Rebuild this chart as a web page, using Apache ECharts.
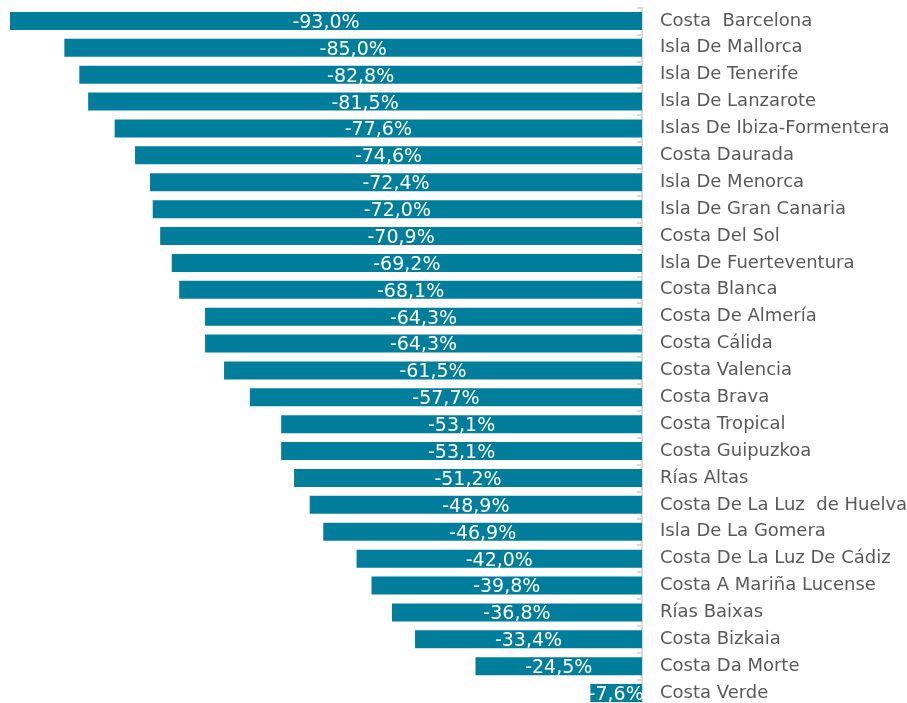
<!DOCTYPE html>
<html>
<head>
<meta charset="utf-8">
<script src="https://cdn.jsdelivr.net/npm/echarts@6/dist/echarts.min.js"></script>
<style>
html,body{margin:0;padding:0;background:#fff;}
#chart{width:907px;height:703px;}
</style>
</head>
<body>
<div id="chart"></div>
<script>
const categories = [
  "Costa  Barcelona","Isla De Mallorca","Isla De Tenerife","Isla De Lanzarote",
  "Islas De Ibiza-Formentera","Costa Daurada","Isla De Menorca","Isla De Gran Canaria",
  "Costa Del Sol","Isla De Fuerteventura","Costa Blanca","Costa De Almería",
  "Costa Cálida","Costa Valencia","Costa Brava","Costa Tropical","Costa Guipuzkoa",
  "Rías Altas","Costa De La Luz  de Huelva","Isla De La Gomera","Costa De La Luz De Cádiz",
  "Costa A Mariña Lucense","Rías Baixas","Costa Bizkaia","Costa Da Morte","Costa Verde"
];
const values = [
  -93.0,-85.0,-82.8,-81.5,-77.6,-74.6,-72.4,-72.0,-70.9,-69.2,-68.1,-64.3,-64.3,
  -61.5,-57.7,-53.1,-53.1,-51.2,-48.9,-46.9,-42.0,-39.8,-36.8,-33.4,-24.5,-7.6
];

const chart = echarts.init(document.getElementById('chart'));
chart.setOption({
  animation: false,
  grid: { left: 10, right: 265, top: 7.5, height: 699, containLabel: false, outerBoundsMode: 'none' },
  xAxis: {
    type: 'value', min: -93, max: 0, show: false
  },
  yAxis: {
    type: 'category', data: categories, inverse: true, position: 'right',
    axisLine: { show: true, lineStyle: { color: '#d9d9d9', width: 2 } },
    axisTick: { show: true, inside: true, length: 5, lineStyle: { color: '#d9d9d9', width: 2 } },
    axisLabel: { margin: 18, color: '#595959', fontFamily: 'DejaVu Sans', fontSize: 18 }
  },
  series: [{
    type: 'bar', data: values, barWidth: 18,
    itemStyle: { color: '#017e9c' },
    label: {
      show: true, position: 'inside', color: '#ffffff',
      fontFamily: 'DejaVu Sans', fontSize: 19, offset: [0, 2],
      formatter: p => p.value.toFixed(1).replace('.', ',') + '%'
    }
  }]
});
</script>
</body>
</html>
